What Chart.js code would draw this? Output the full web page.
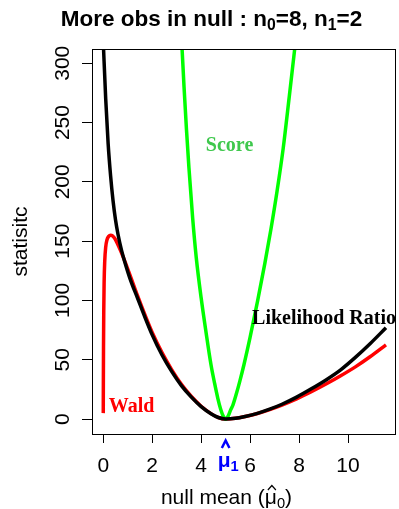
<!DOCTYPE html>
<html>
<head>
<meta charset="utf-8">
<script src="https://cdn.jsdelivr.net/npm/chart.js@4.4.0/dist/chart.umd.min.js"></script>
<style>
  html, body { margin: 0; padding: 0; background: #fff; }
  #wrap { width: 399px; height: 509px; position: relative; }
</style>
</head>
<body>
<div id="wrap"><canvas id="statChart"></canvas></div>
<script>
// mean of the alternative group
const mu1 = 5;

// likelihood ratio statistic against the null mean
const lrX = [0, 0.1, 0.2, 0.3, 0.4, 0.5, 0.6, 0.75, 0.9, 1.1, 1.4, 1.7, 2.0, 2.4, 2.8, 3.2, 3.6, 4.0, 4.4, 4.7,
             5.0, 5.4, 5.8, 6.3, 6.8, 7.3, 7.9, 8.5, 9.1, 9.7, 10.3, 10.9, 11.55];
const lrY = [318, 270, 232, 205, 184, 168, 156, 142, 131, 118, 102, 86, 71, 54, 40, 28, 18.5, 10.5, 4.5, 1.3,
             0, 0.6, 2.2, 4.8, 8.3, 12.5, 18.5, 25.5, 33, 41.5, 52, 63.5, 77];

// Wald statistic
const waldX = [0, 0.004, 0.01, 0.02, 0.035, 0.06, 0.1, 0.15, 0.22, 0.3, 0.38, 0.48, 0.6, 0.75, 0.9, 1.1, 1.4, 1.7,
               2.0, 2.4, 2.8, 3.2, 3.6, 4.0, 4.4, 4.7, 5.0, 5.4, 5.8, 6.3, 6.8, 7.3, 7.9, 8.5, 9.1, 9.7, 10.3, 10.9, 11.55];
const waldY = [5, 30, 60, 90, 115, 133, 145, 151, 154, 155, 154.5, 152, 147, 140, 132, 121, 104, 88,
               73, 56, 41.5, 29, 19, 10.8, 4.6, 1.3, 0, 0.6, 2.2, 4.7, 8, 11.8, 17, 23, 29.5, 36.5, 44, 52.5, 62.5];

// score statistic
const scoreX = [3.15, 3.22, 3.3, 3.4, 3.5, 3.65, 3.8, 4.0, 4.2, 4.4, 4.55, 4.68, 4.8, 4.9, 5.0,
                5.1, 5.2, 5.3, 5.42, 5.58, 5.75, 6.0, 6.3, 6.6, 6.85, 7.1, 7.35, 7.6, 7.81, 7.9];
const scoreY = [337, 312, 280, 244, 212, 170, 136, 102, 73, 46, 30, 17.5, 8, 2.5, 0,
                2.5, 7.5, 12, 20, 32, 46, 69, 99, 131, 160, 192, 228, 272, 310, 327];

const xTicks = [0, 2, 4, 6, 8, 10];
const yTicks = [0, 50, 100, 150, 200, 250, 300];

const SANS = '"Liberation Sans", Arial, Helvetica, sans-serif';
const SERIF = '"Liberation Serif", "Times New Roman", serif';

function pts(xs, ys) {
  return xs.map((x, i) => ({ x: x, y: ys[i] }));
}

// draws a run of text pieces, some of them as subscripts, centred on cx
function drawRuns(ctx, cx, baseY, runs, size, weight, color) {
  const subSize = size * 0.7;
  let total = 0;
  runs.forEach(r => {
    ctx.font = weight + ' ' + (r.sub ? subSize : size) + 'px ' + SANS;
    r.w = ctx.measureText(r.t).width;
    total += r.w;
  });
  let x = cx - total / 2;
  ctx.fillStyle = color;
  ctx.textAlign = 'left';
  ctx.textBaseline = 'alphabetic';
  runs.forEach(r => {
    ctx.font = weight + ' ' + (r.sub ? subSize : size) + 'px ' + SANS;
    ctx.fillText(r.t, x, baseY + (r.sub ? size * 0.2 : 0));
    x += r.w;
  });
}

const decorations = {
  id: 'decorations',
  afterDraw(chart) {
    const ctx = chart.ctx;
    const a = chart.chartArea;
    const xs = chart.scales.x;
    const ys = chart.scales.y;
    ctx.save();

    // plot box
    ctx.strokeStyle = '#000';
    ctx.lineWidth = 1;
    ctx.strokeRect(a.left + 0.5, a.top + 0.5, a.right - a.left - 1, a.bottom - a.top);

    // tick labels
    ctx.fillStyle = '#000';
    ctx.font = '21px ' + SANS;
    ctx.textAlign = 'center';
    ctx.textBaseline = 'alphabetic';
    xTicks.forEach(v => ctx.fillText(String(v), xs.getPixelForValue(v), 471.5));
    yTicks.forEach(v => {
      ctx.save();
      ctx.translate(68.5, ys.getPixelForValue(v));
      ctx.rotate(-Math.PI / 2);
      ctx.fillText(String(v), 0, 0);
      ctx.restore();
    });

    // mu1 marker under the axis
    const mx = xs.getPixelForValue(mu1);
    ctx.strokeStyle = '#0000ff';
    ctx.lineWidth = 2.5;
    ctx.beginPath();
    ctx.moveTo(mx - 3.8, 448);
    ctx.lineTo(mx, 440.5);
    ctx.lineTo(mx + 3.8, 448);
    ctx.stroke();
    drawRuns(ctx, mx + 2.5, 467, [{ t: 'μ' }, { t: '1', sub: true }], 21, 'bold', '#0000ff');

    // axis titles
    ctx.fillStyle = '#000';
    ctx.font = '21px ' + SANS;
    ctx.textAlign = 'center';
    ctx.save();
    ctx.translate(26.5, (a.top + a.bottom) / 2);
    ctx.rotate(-Math.PI / 2);
    ctx.fillText('statisitc', 0, 0);
    ctx.restore();

    const xl = [{ t: 'null mean (' }, { t: 'μ' }, { t: '0', sub: true }, { t: ')' }];
    drawRuns(ctx, 226.5, 504, xl, 21, 'normal', '#000');
    // hat over mu
    ctx.font = '21px ' + SANS;
    const wA = ctx.measureText('null mean (').width;
    const wMu = ctx.measureText('μ').width;
    ctx.font = (21 * 0.7) + 'px ' + SANS;
    const w0 = ctx.measureText('0').width;
    ctx.font = '21px ' + SANS;
    const wP = ctx.measureText(')').width;
    const hx = 226.5 - (wA + wMu + w0 + wP) / 2 + wA + wMu / 2 + 1;
    ctx.strokeStyle = '#000';
    ctx.lineWidth = 1.2;
    ctx.beginPath();
    ctx.moveTo(hx - 4, 490);
    ctx.lineTo(hx, 485.5);
    ctx.lineTo(hx + 4, 490);
    ctx.stroke();

    // main title
    drawRuns(ctx, 211.5, 25.5,
      [{ t: 'More obs in null : n' }, { t: '0', sub: true }, { t: '=8, n' }, { t: '1', sub: true }, { t: '=2' }],
      22.5, 'bold', '#000');

    // curve labels
    ctx.font = 'bold 20px ' + SERIF;
    ctx.textAlign = 'center';
    ctx.fillStyle = '#3fc84d';
    ctx.fillText('Score', xs.getPixelForValue(5.16), ys.getPixelForValue(226));
    ctx.fillStyle = '#000';
    ctx.fillText('Likelihood Ratio', xs.getPixelForValue(9.02), ys.getPixelForValue(80.5));
    ctx.fillStyle = '#ff0000';
    ctx.fillText('Wald', xs.getPixelForValue(1.16), ys.getPixelForValue(6.3));

    ctx.restore();
  }
};

const lineStyle = {
  fill: false,
  pointRadius: 0,
  borderWidth: 3.5,
  cubicInterpolationMode: 'monotone',
  clip: 0
};

new Chart(document.getElementById('statChart'), {
  type: 'line',
  data: {
    datasets: [
      Object.assign({ label: 'Likelihood Ratio', data: pts(lrX, lrY), borderColor: '#000000' }, lineStyle),
      Object.assign({ label: 'Score', data: pts(scoreX, scoreY), borderColor: '#00ff00' }, lineStyle),
      Object.assign({ label: 'Wald', data: pts(waldX, waldY), borderColor: '#ff0000' }, lineStyle)
    ]
  },
  options: {
    responsive: true,
    maintainAspectRatio: false,
    animation: false,
    layout: { padding: { left: 0, top: 49, right: 3, bottom: 0 } },
    plugins: { legend: { display: false }, tooltip: { enabled: false }, title: { display: false } },
    scales: {
      x: {
        type: 'linear',
        min: -0.46,
        max: 11.96,
        afterBuildTicks: s => { s.ticks = xTicks.map(v => ({ value: v })); },
        afterFit: s => { s.height = 75; },
        ticks: { display: false },
        border: { display: false },
        grid: { drawOnChartArea: false, drawTicks: true, tickLength: 9, color: '#000', lineWidth: 1 }
      },
      y: {
        type: 'linear',
        min: -12.6,
        max: 312,
        afterBuildTicks: s => { s.ticks = yTicks.map(v => ({ value: v })); },
        afterFit: s => { s.width = 92; },
        ticks: { display: false },
        border: { display: false },
        grid: { drawOnChartArea: false, drawTicks: true, tickLength: 10, color: '#000', lineWidth: 1 }
      }
    }
  },
  plugins: [decorations]
});
</script>
</body>
</html>
